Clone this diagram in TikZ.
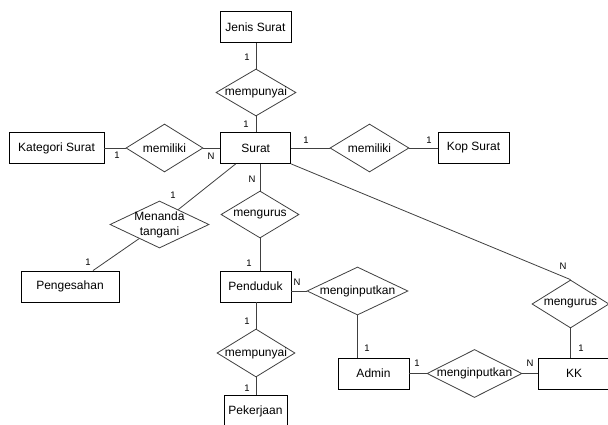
\documentclass[tikz,border=0pt]{standalone}
\usepackage{fontspec}
\setmainfont{Liberation Sans}
\usetikzlibrary{shapes.geometric}
\begin{document}
\begin{tikzpicture}[x=1pt,y=-1pt,
  ent/.style={draw=black, line width=0.8pt, minimum width=#1, minimum height=31pt, inner sep=0pt, font=\fontsize{12}{14}\selectfont},
  rel/.style={diamond, draw=black!75, line width=0.8pt, inner sep=0pt},
  lab/.style={font=\fontsize{12}{15}\selectfont, align=center, inner sep=0pt},
  card/.style={font=\fontsize{9.5}{11}\selectfont, inner sep=0pt},
  conn/.style={draw=black!75, line width=0.8pt}]
\fill[white] (0,0) rectangle (608,425);
\useasboundingbox (0,0) rectangle (608,425);
% entities
\node[ent=71pt] (jenis) at (255.5,27) {Jenis Surat};
\node[ent=70pt] (surat) at (255.7,148) {Surat};
\node[ent=95pt] (kat) at (56.5,148) {Kategori Surat};
\node[ent=71pt] (kop) at (473.5,148) {Kop Surat};
\node[ent=98pt] (peng) at (70,286.5) {Pengesahan};
\node[ent=71pt] (pend) at (255.5,286.5) {Penduduk};
\node[ent=63pt, minimum height=32pt] (pek) at (255.5,411) {Pekerjaan};
\node[ent=71pt] (admin) at (373.5,373.5) {Admin};
\node[ent=72pt] (kk) at (574,373.5) {KK};
% relations
\node[rel, minimum width=80pt, minimum height=47pt, label={[lab]center:mempunyai}] (mp1) at (256,92.5) {};
\node[rel, minimum width=77pt, minimum height=48pt, label={[lab]center:memiliki}] (mem1) at (164.5,148) {};
\node[rel, minimum width=79pt, minimum height=48pt, label={[lab]center:memiliki}] (mem2) at (369.5,148) {};
\node[rel, minimum width=99pt, minimum height=47pt, label={[lab]center:Menanda\\tangani}] (mt) at (159.5,224.5) {};
\node[rel, minimum width=78pt, minimum height=47pt, label={[lab]center:mengurus}] (mg) at (260,214.5) {};
\node[rel, minimum width=78pt, minimum height=48pt, label={[lab]center:mempunyai}] (mp2) at (256,353) {};
\node[rel, minimum width=101pt, minimum height=48pt, label={[lab]center:menginputkan}] (mi1) at (357.5,291) {};
\node[rel, minimum width=95pt, minimum height=48pt, label={[lab]center:menginputkan}] (mi2) at (474.5,373.5) {};
\node[rel, minimum width=77pt, minimum height=48pt, label={[lab]center:mengurus}] (mk) at (570.5,304) {};
% connectors
\draw[conn] (mp1.north) -- (mp1.north |- jenis.south);
\draw[conn] (mp1.south) -- (mp1.south |- surat.north);
\draw[conn] (kat) -- (mem1);
\draw[conn] (mem1) -- (surat);
\draw[conn] (surat) -- (mem2);
\draw[conn] (mem2) -- (kop);
\draw[conn] (surat) -- (mt);
\draw[conn] (mt) -- (peng);
\draw[conn] (surat.south -| mg.north) -- (mg.north);
\draw[conn] (mg.south) -- (mg.south |- pend.north);
\draw[conn] (mp2.north) -- (mp2.north |- pend.south);
\draw[conn] (mp2.south) -- (mp2.south |- pek.north);
\draw[conn] (pend.east |- mi1.west) -- (mi1.west);
\draw[conn] (mi1.south) -- (mi1.south |- admin.north);
\draw[conn] (admin) -- (mi2);
\draw[conn] (mi2) -- (kk);
\draw[conn] (surat.south east) -- (mk.north);
\draw[conn] (mk.south) -- (mk.south |- kk.north);
% cardinalities
\node[card] (c1) at (247,57) {1};
\node[card] (c2) at (246,124) {1};
\node[card] (c3) at (117,155) {1};
\node[card] (c4) at (211,156) {N};
\node[card] (c5) at (306,140) {1};
\node[card] (c6) at (429,140) {1};
\node[card] (c7) at (252,179) {N};
\node[card] (c8) at (173,195) {1};
\node[card] (c9) at (88,262) {1};
\node[card] (c10) at (249,263) {1};
\node[card] (c11) at (297,282) {N};
\node[card] (c12) at (247,321) {1};
\node[card] (c13) at (247,388) {1};
\node[card] (c14) at (367,348) {1};
\node[card] (c15) at (417,363) {1};
\node[card] (c16) at (530,363) {N};
\node[card] (c17) at (563,266) {N};
\node[card] (c18) at (581,348) {1};
\end{tikzpicture}
\end{document}
